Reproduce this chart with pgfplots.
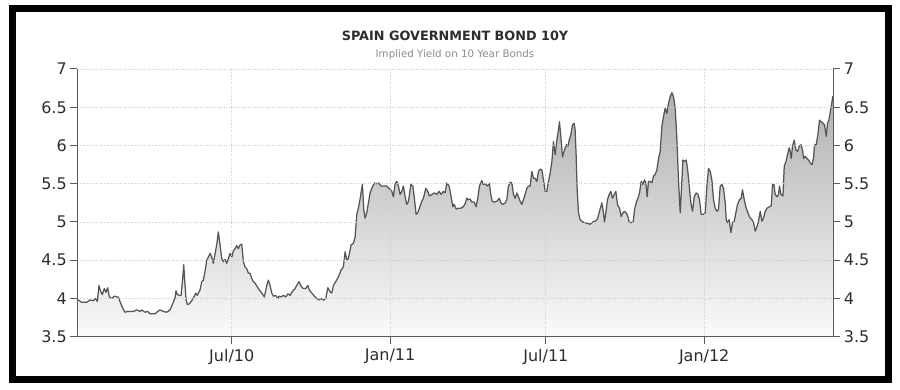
\documentclass[border=0pt]{standalone}
\usepackage{fontspec}
\setmainfont{DejaVu Sans}
\usepackage{pgfplots}
\usepackage{pgfplotstable}
\pgfplotsset{compat=1.18}
\definecolor{linegray}{RGB}{85,85,85}
\definecolor{axisgray}{RGB}{90,90,90}
\definecolor{labelgray}{RGB}{45,45,45}
\definecolor{subgray}{RGB}{140,140,140}
\definecolor{gridgray}{RGB}{205,205,205}
\definecolor{filltop}{RGB}{175,175,175}
\definecolor{fillbot}{RGB}{250,250,250}

% x: days since 1 Jan 2010, y: yield (%)
\pgfplotstableread{
x y
1.5 3.99
2.7 3.98
6.6 3.95
12.4 3.95
16.3 3.98
20.1 3.97
22.9 4.00
24.8 3.96
26.7 4.17
28.7 4.09
30.6 4.05
32.9 4.13
34.9 4.08
36.8 4.14
38.7 4.02
41.5 4.00
44.5 4.03
47.3 4.02
49.2 4.02
51.1 3.96
54.3 3.87
57.0 3.82
60.1 3.83
62.8 3.83
66.6 3.83
70.6 3.85
74.4 3.83
76.4 3.85
80.2 3.82
83.3 3.83
86.0 3.80
91.8 3.80
95.0 3.83
97.6 3.85
101.5 3.83
105.4 3.82
109.3 3.85
113.1 3.95
115.1 4.01
116.2 4.10
117.8 4.05
120.1 4.04
122.1 4.04
124.0 4.26
125.2 4.44
126.4 4.22
127.9 3.98
129.4 3.92
131.7 3.93
134.5 3.97
137.2 4.02
139.1 4.07
141.0 4.04
144.1 4.11
146.1 4.22
148.0 4.24
149.9 4.35
151.9 4.50
153.8 4.54
155.8 4.59
157.7 4.54
159.6 4.46
161.6 4.59
163.5 4.70
165.4 4.87
167.4 4.70
169.4 4.52
171.2 4.48
173.2 4.51
175.2 4.46
177.0 4.52
179.0 4.59
181.0 4.54
182.8 4.62
184.8 4.65
186.8 4.69
188.7 4.65
190.6 4.70
192.6 4.71
194.5 4.48
196.4 4.41
198.4 4.39
200.3 4.33
202.3 4.33
204.2 4.26
206.1 4.22
208.1 4.20
210.7 4.15
213.1 4.11
215.9 4.07
218.9 4.02
221.7 4.17
223.5 4.24
225.5 4.17
227.5 4.07
229.3 4.03
232.1 4.04
234.5 4.00
236.0 4.03
238.3 4.02
241.0 4.04
243.8 4.02
246.1 4.06
248.8 4.04
251.4 4.09
254.6 4.13
256.5 4.17
259.2 4.22
261.5 4.16
264.2 4.13
267.0 4.13
269.3 4.17
271.2 4.11
274.0 4.07
277.0 4.03
279.8 4.00
282.5 3.98
284.8 4.00
287.5 3.98
290.3 4.00
292.6 4.14
295.2 4.09
297.2 4.07
299.1 4.17
301.9 4.22
304.9 4.28
308.0 4.37
310.7 4.41
312.7 4.61
314.7 4.50
316.5 4.52
319.7 4.70
322.3 4.72
324.3 4.80
326.3 5.10
328.1 5.18
330.1 5.30
332.8 5.49
334.4 5.16
335.9 5.05
337.9 5.12
339.8 5.25
341.7 5.38
343.7 5.44
346.7 5.51
349.5 5.50
351.4 5.51
354.5 5.47
357.2 5.47
361.2 5.47
363.8 5.44
367.0 5.40
368.8 5.33
370.8 5.50
372.8 5.53
374.6 5.47
376.6 5.36
378.6 5.40
380.5 5.47
382.4 5.33
384.4 5.23
386.3 5.27
389.1 5.49
391.4 5.47
393.2 5.31
395.2 5.10
397.2 5.12
399.0 5.18
401.8 5.27
403.7 5.31
406.5 5.44
408.8 5.40
410.7 5.34
413.5 5.36
416.5 5.38
419.3 5.36
421.9 5.40
424.3 5.36
426.9 5.40
428.9 5.38
430.9 5.51
433.6 5.47
435.9 5.33
437.9 5.20
439.4 5.23
441.7 5.17
444.4 5.18
447.2 5.18
450.2 5.20
452.2 5.24
454.2 5.31
456.0 5.29
458.0 5.30
460.0 5.26
462.6 5.26
465.0 5.20
466.9 5.31
468.8 5.47
471.6 5.54
473.4 5.49
475.8 5.50
478.1 5.47
480.4 5.50
482.0 5.36
483.6 5.27
485.9 5.26
489.0 5.27
492.0 5.31
493.7 5.25
496.0 5.23
498.7 5.25
500.6 5.29
502.5 5.47
504.5 5.52
506.5 5.51
508.3 5.36
510.3 5.31
512.3 5.38
514.1 5.33
516.1 5.27
518.1 5.23
519.9 5.29
521.9 5.36
523.9 5.44
525.8 5.47
527.7 5.47
529.7 5.66
531.6 5.57
533.5 5.57
535.5 5.53
537.4 5.66
539.4 5.69
541.3 5.68
543.2 5.55
545.2 5.40
547.1 5.40
549.0 5.53
551.0 5.64
553.0 5.79
554.8 6.05
556.8 5.88
558.8 6.07
560.6 6.20
561.8 6.31
563.4 6.12
565.3 5.85
567.6 5.94
569.6 6.01
571.6 5.99
573.1 6.07
575.0 6.14
576.9 6.27
578.9 6.29
580.0 6.20
581.2 5.86
582.4 5.42
583.9 5.12
585.8 5.03
588.5 5.00
591.7 4.99
594.8 4.98
597.5 4.97
600.2 5.00
603.3 5.01
606.0 5.04
608.3 5.14
611.1 5.25
612.9 5.12
614.1 5.00
615.7 5.12
617.6 5.29
619.6 5.36
621.5 5.40
623.4 5.31
625.4 5.36
627.3 5.40
629.2 5.23
631.5 5.18
633.5 5.07
635.5 5.12
637.4 5.14
639.3 5.12
641.3 5.07
642.8 5.00
645.1 4.99
647.5 5.00
649.0 5.16
650.9 5.25
652.9 5.31
654.8 5.38
656.8 5.53
658.7 5.49
660.6 5.55
662.2 5.51
663.7 5.33
665.2 5.53
667.2 5.53
669.2 5.51
671.1 5.60
673.0 5.62
675.0 5.68
676.9 5.83
678.8 5.92
680.8 6.25
682.7 6.38
684.7 6.49
686.6 6.42
688.5 6.55
690.5 6.64
692.4 6.69
694.3 6.64
696.3 6.49
698.3 6.07
700.1 5.55
702.1 5.12
704.1 5.55
705.2 5.81
707.1 5.79
709.1 5.81
710.6 5.70
712.6 5.47
714.5 5.25
716.4 5.14
718.4 5.33
720.7 5.38
722.7 5.36
724.5 5.29
726.5 5.10
729.2 5.10
731.2 5.12
733.1 5.47
735.0 5.70
737.0 5.66
738.9 5.55
740.8 5.29
742.8 5.18
744.7 5.14
746.6 5.16
748.6 5.47
750.6 5.49
752.4 5.44
754.4 5.25
755.6 5.03
757.1 4.99
759.0 5.03
761.0 4.86
762.9 4.99
764.9 5.01
766.8 5.12
768.7 5.23
771.0 5.29
773.0 5.31
774.5 5.42
776.5 5.29
778.8 5.18
781.5 5.10
783.5 5.05
785.4 5.03
787.3 4.99
789.3 4.88
791.3 4.94
793.1 5.01
795.1 5.14
797.1 5.01
798.9 5.05
800.9 5.14
802.9 5.18
805.9 5.20
807.9 5.21
809.4 5.49
811.0 5.49
812.5 5.36
814.5 5.33
816.4 5.36
817.5 5.47
819.1 5.36
821.5 5.34
823.0 5.73
825.0 5.79
826.8 5.88
828.8 5.97
830.0 5.92
831.1 5.83
832.6 5.99
834.6 6.07
836.6 5.94
838.4 5.92
840.4 5.99
842.4 6.01
844.3 5.94
845.4 5.83
847.4 5.86
849.4 5.83
851.2 5.81
853.2 5.77
855.2 5.75
857.0 5.83
858.2 6.01
860.2 6.01
862.1 6.14
864.0 6.33
866.0 6.31
868.0 6.29
869.8 6.27
871.8 6.12
873.3 6.29
874.9 6.33
876.5 6.44
878.0 6.53
879.3 6.64
880.0 6.58
}\yields

\begin{document}
\begin{tikzpicture}
\useasboundingbox (0,0) rectangle (900pt,390pt);
\fill[white] (0,0) rectangle (900pt,390pt);
\draw[black, line width=6.8pt] (12.5pt,10.8pt) rectangle (888.5pt,381.5pt);

\node[font=\bfseries\fontsize{12.8}{14}\selectfont, text=labelgray, anchor=base] at (455pt,349pt) {SPAIN GOVERNMENT BOND 10Y};
\node[font=\fontsize{10.3}{12}\selectfont, text=subgray, anchor=base] at (455pt,332.5pt) {Implied Yield on 10 Year Bonds};

\begin{axis}[
  at={(77.3pt,53.3pt)}, anchor=south west,
  scale only axis, width=756pt, height=267.7pt,
  xmin=1.5, xmax=880, ymin=3.5, ymax=7,
  axis x line*=bottom, axis y line*=left,
  axis line style={draw=axisgray, line width=1.3pt},
  axis on top,
  xtick={181,365,546,730},
  xticklabels={Jul/10,Jan/11,Jul/11,Jan/12},
  ytick={3.5,4,4.5,5,5.5,6,6.5,7},
  tick align=outside,
  major tick length=7pt,
  tick style={draw=axisgray, line width=1pt},
  grid=major,
  grid style={dotted, draw=gridgray, line width=0.8pt},
  /pgf/number format/assume math mode=true,
  ticklabel style={font=\fontsize{16}{18}\selectfont, text=labelgray},
  xticklabel style={yshift=-2pt},
  clip=true,
]
\addplot[draw=none, top color=filltop, bottom color=fillbot, forget plot]
  table[x=x, y=y] {\yields} -- (axis cs:880,3.5) -- (axis cs:1.5,3.5) -- cycle;
\addplot[draw=linegray, line width=1.25pt, mark=none, line join=round] table[x=x, y=y] {\yields};
\end{axis}

\begin{axis}[
  at={(77.3pt,53.3pt)}, anchor=south west,
  scale only axis, width=756pt, height=267.7pt,
  xmin=1.5, xmax=880, ymin=3.5, ymax=7,
  axis x line=none, axis y line*=right,
  axis line style={draw=axisgray, line width=1.3pt},
  ytick={3.5,4,4.5,5,5.5,6,6.5,7},
  tick align=outside,
  major tick length=7pt,
  tick style={draw=axisgray, line width=1pt},
  /pgf/number format/assume math mode=true,
  ticklabel style={font=\fontsize{16}{18}\selectfont, text=labelgray},
]
\end{axis}
\end{tikzpicture}
\end{document}
